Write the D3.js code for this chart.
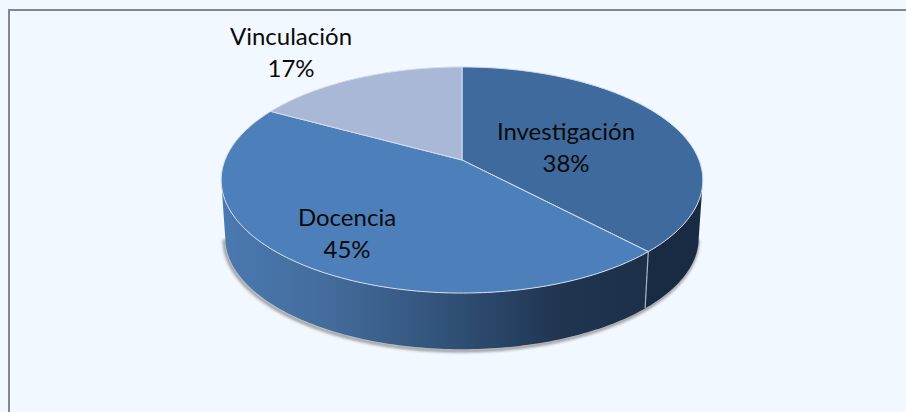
<!DOCTYPE html>
<html>
<head>
<meta charset="utf-8">
<script src="https://cdnjs.cloudflare.com/ajax/libs/d3/7.8.5/d3.min.js"></script>
<style>
  html, body { margin: 0; padding: 0; background: #f2f8ff; }
  svg { display: block; }
  text { font-family: Lato, "Open Sans", sans-serif; font-size: 24px; fill: #0a0a0a; text-anchor: middle; }
</style>
</head>
<body>
<svg id="chart" width="906" height="412"></svg>
<script>
const categories = ["Investigación", "Docencia", "Vinculación"];
const shares = [38, 45, 17];
const topColors = ["#3f6a9e", "#4d7fba", "#a9b8d6"];
const labelSpots = [[566, 131], [347, 217], [291, 36]];

const svg = d3.select("#chart");
const width = 906, height = 412;

// the pie is tilted, so slice angles go through a perspective map
const cx = 462, tilt = -0.177;
function rimPoint(angle, rim) {
    const u = Math.sin(angle), v = -Math.cos(angle);
    const w = 1 + tilt * v;
    return [cx + rim.a * u / w, rim.y + rim.b * v / w];
}
const topRim = { a: 237, b: 109.5, y: 160 };
const lowRim = { a: 233, b: 108, y: 218 };

const line = d3.line();
function arcPoints(start, end, rim) {
    const n = Math.max(2, Math.ceil((end - start) * 60));
    return d3.range(n + 1).map(i => rimPoint(start + (end - start) * i / n, rim));
}
function wallPath(start, end) {
    return line(arcPoints(start, end, topRim).concat(arcPoints(start, end, lowRim).reverse())) + "Z";
}

const slices = d3.pie().sort(null).value(d => d)(shares);

const defs = svg.append("defs");
defs.append("filter").attr("id", "soft")
    .attr("x", "-5%").attr("y", "-5%").attr("width", "110%").attr("height", "110%")
    .append("feGaussianBlur").attr("stdDeviation", 1.4);
const grad = defs.append("linearGradient").attr("id", "wallFront")
    .attr("gradientUnits", "userSpaceOnUse")
    .attr("x1", 222).attr("x2", 650).attr("y1", 0).attr("y2", 0);
grad.selectAll("stop")
    .data([[0, "#4a79b0"], [0.25, "#436c9c"], [0.55, "#2f4f75"], [0.8, "#1f344f"], [1, "#1c3049"]])
    .enter().append("stop")
    .attr("offset", d => d[0]).attr("stop-color", d => d[1]);

// panel
svg.append("rect")
    .attr("x", 9).attr("y", 10)
    .attr("width", width + 20).attr("height", height + 20)
    .attr("fill", "#f2f8ff").attr("stroke", "#868686").attr("stroke-width", 2);

// the wall runs between the left and right extremes of the ellipse
const wallStart = Math.PI / 2 + 0.18, wallEnd = Math.PI * 1.5 - 0.18;
const seam = slices[0].endAngle;

// shadow under the wall
svg.append("path")
    .attr("d", line(arcPoints(wallStart, wallEnd, lowRim).map(p => [p[0] - 1, p[1] + 1.5])))
    .attr("fill", "none").attr("stroke", "#8c8c8c").attr("stroke-width", 3)
    .attr("filter", "url(#soft)");

// side walls
svg.append("path")
    .attr("d", wallPath(wallStart, seam))
    .attr("fill", "#182b42");
svg.append("path")
    .attr("d", wallPath(seam, wallEnd))
    .attr("fill", "url(#wallFront)");
svg.append("path")
    .attr("d", line([rimPoint(seam, topRim), rimPoint(seam, lowRim)]))
    .attr("fill", "none").attr("stroke", "#a9b4c2").attr("stroke-width", 1.2);

// top faces
svg.selectAll("path.slice")
    .data(slices)
    .enter().append("path")
    .attr("class", "slice")
    .attr("d", d => line([[cx, topRim.y]].concat(arcPoints(d.startAngle, d.endAngle, topRim))) + "Z")
    .attr("fill", (d, i) => topColors[i])
    .attr("stroke", "#d5deea").attr("stroke-width", 1).attr("stroke-linejoin", "round");

// labels
const labels = svg.selectAll("g.label")
    .data(categories)
    .enter().append("g")
    .attr("class", "label")
    .attr("transform", (d, i) => `translate(${labelSpots[i][0]},${labelSpots[i][1]})`);
labels.append("text").attr("y", 9).text(d => d);
labels.append("text").attr("y", 41).text((d, i) => shares[i] + "%");
</script>
</body>
</html>
